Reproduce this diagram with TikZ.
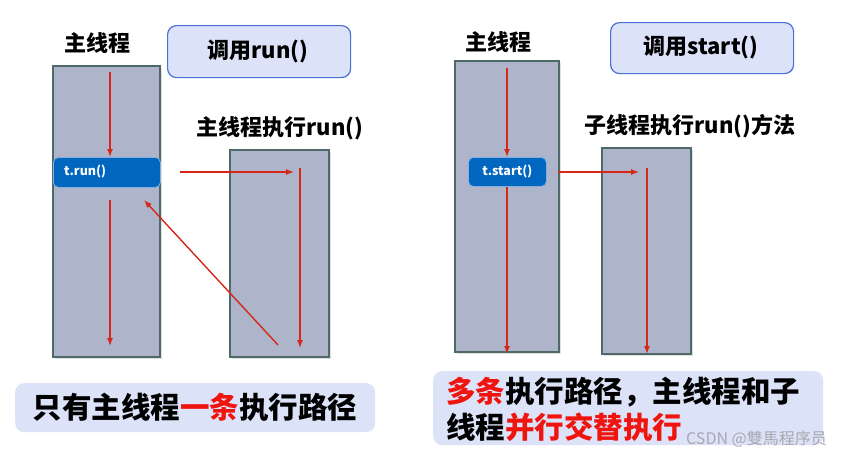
\documentclass[tikz,border=0pt]{standalone}
\usepackage{fontspec}
\setmainfont{Noto Sans CJK SC}
\usetikzlibrary{arrows.meta,shadows}
\definecolor{colfill}{HTML}{AEB4CA}
\definecolor{colborder}{HTML}{4F6868}
\definecolor{arr}{HTML}{D62718}
\definecolor{boxfill}{HTML}{DCE2F8}
\definecolor{boxborder}{HTML}{4A6FD6}
\definecolor{tblue}{HTML}{0066BF}
\definecolor{hred}{HTML}{F0140F}
\definecolor{wmgray}{HTML}{A8A8B0}
\begin{document}
\begin{tikzpicture}[x=1pt,y=-1pt,
  col/.style={draw=colborder, fill=colfill, line width=1.3pt, anchor=north west, inner sep=0pt, outer sep=0pt,
    drop shadow={opacity=0.25, shadow xshift=1.5pt, shadow yshift=-1.5pt}},
  callbox/.style={draw=boxborder, fill=boxfill, line width=1.2pt, rounded corners=9pt, anchor=north west, inner sep=0pt},
  tbox/.style={fill=tblue, draw=boxfill!60!tblue, line width=0.8pt, rounded corners=5pt, anchor=north west, inner sep=0pt,
    text=white, font=\fontsize{12}{14}\selectfont\bfseries},
  lbl/.style={font=\fontsize{22}{26}\selectfont\bfseries, inner sep=0pt},
  big/.style={font=\fontsize{29.5}{34}\selectfont\bfseries, inner sep=0pt},
  note/.style={fill=boxfill, rounded corners=9pt, anchor=north west, inner sep=0pt},
  rarrow/.style={draw=arr, line width=1.4pt, -{Latex[length=8pt,width=6pt]}}
]
\useasboundingbox (0,0) rectangle (843,455);

% ---------------- left panel ----------------
\node[lbl] (lmaintitle) at (97,43) {主线程};
\node[callbox, minimum width=183pt, minimum height=52pt] (lcall) at (167,25) {};
\node[lbl] (lcalltxt) at (258,51) {调用run()};
\node[col, minimum width=107pt, minimum height=291pt] (lmain) at (53,66) {};
\node[col, minimum width=99pt, minimum height=207pt] (lsub) at (230,150) {};
\node[lbl] (lsubtitle) at (280,128) {主线程执行run()};
\node[tbox, minimum width=107pt, minimum height=30pt] (trun) at (53,157) {};
\node[anchor=west, text=white, font=\fontsize{12.5}{14}\selectfont\bfseries, inner sep=0pt] (truntxt) at (64,172) {t.run()};

\coordinate (la1s) at (110,72);
\coordinate (la2s) at (110,200);
\coordinate (la2e) at (110,346);
\coordinate (lhs) at (180,172);
\coordinate (lhe) at (294,172);
\coordinate (lvs) at (300,168);
\coordinate (lve) at (300,348);
\coordinate (lds) at (278,345);
\coordinate (lde) at (144,200);
\draw[rarrow] (la1s) -- (la1s |- trun.north);
\draw[rarrow] (la2s) -- (la2e);
\draw[rarrow] (lhs) -- (lhe);
\draw[rarrow] (lvs) -- (lve);
\draw[rarrow] (lds) -- (lde);

\node[note, minimum width=360pt, minimum height=49pt] (lnote) at (15,383) {};
\node[big] (lnotetxt) at (lnote.center) {只有主线程\textcolor{hred}{一条}执行路径};

% ---------------- right panel ----------------
\node[lbl] (rmaintitle) at (498,42) {主线程};
\node[callbox, minimum width=183pt, minimum height=51pt] (rcall) at (610,22) {};
\node[lbl] (rcalltxt) at (701,47) {调用start()};
\node[col, minimum width=104pt, minimum height=291pt] (rmain) at (455,61) {};
\node[col, minimum width=89pt, minimum height=206pt] (rsub) at (602,148) {};
\node[lbl] (rsubtitle) at (690,126) {子线程执行run()方法};
\node[tbox, minimum width=78pt, minimum height=29pt] (tstart) at (468,157) {};
\node[text=white, font=\fontsize{12.5}{14}\selectfont\bfseries, inner sep=0pt] (tstarttxt) at (tstart.center) {t.start()};

\coordinate (ra1s) at (507,68);
\coordinate (ra2e) at (507,354);
\coordinate (rhs) at (558,172);
\coordinate (rhe) at (639,172);
\coordinate (rvs) at (647,168);
\coordinate (rve) at (647,354);
\draw[rarrow] (ra1s) -- (ra1s |- tstart.north);
\draw[rarrow] (ra1s |- tstart.south) -- (ra2e);
\draw[rarrow] (rhs) -- (rhe);
\draw[rarrow] (rvs) -- (rve);

\node[note, minimum width=390pt, minimum height=74pt] (rnote) at (433,371) {};
\node[big, anchor=west] (rnote1) at (446,392) {\textcolor{hred}{多条}执行路径，主线程和子};
\node[big, anchor=west] (rnote2) at (446,427) {线程\textcolor{hred}{并行交替执行}};
\node[anchor=east, inner sep=0pt, text=wmgray, font=\fontsize{16}{18}\selectfont] (wm) at (827,439) {CSDN @雙馬程序员};
\end{tikzpicture}
\end{document}
